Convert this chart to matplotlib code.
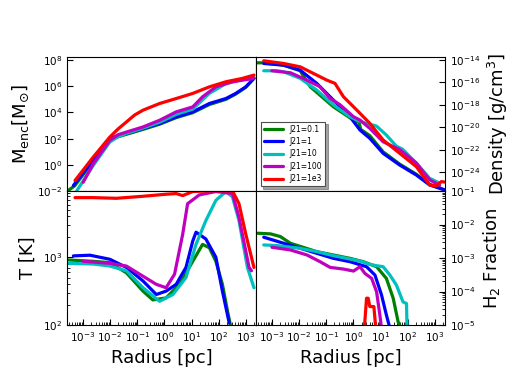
import numpy as np
import matplotlib
matplotlib.use("Agg")
import matplotlib.pyplot as plt
from matplotlib.ticker import LogLocator, NullLocator, NullFormatter

labels = ["J21=0.1", "J21=1", "J21=10", "J21=100", "J21=1e3"]
colors = ["g", "b", "c", "m", "r"]

# ---- Enclosed mass (log10 r [pc], log10 M [Msun]) ----
menc_r_g = [-3.54, -3.30, -2.62, -2.01, -1.40, -0.79, -0.18, 0.43, 1.04, 1.65, 2.26, 2.62, 2.99, 3.29]
menc_v_g = [-1.96, -1.60, 0.28, 1.95, 2.33, 2.70, 3.10, 3.60, 3.98, 4.60, 5.00, 5.40, 5.92, 6.60]
menc_r_b = [-3.35, -2.62, -2.01, -1.70, -1.40, -0.79, -0.18, 0.43, 1.04, 1.65, 2.26, 2.62, 2.99, 3.29]
menc_v_b = [-1.58, 0.34, 2.00, 2.25, 2.38, 2.77, 3.15, 3.66, 4.04, 4.68, 5.06, 5.45, 5.95, 6.60]
menc_r_c = [-3.23, -2.62, -2.01, -1.70, -1.40, -0.79, -0.18, 0.43, 1.04, 1.65, 2.26, 2.87, 3.29]
menc_v_c = [-2.00, -0.05, 1.74, 2.15, 2.40, 2.80, 3.25, 3.85, 4.25, 5.45, 6.20, 6.50, 6.65]
menc_r_m = [-2.99, -2.62, -2.01, -1.70, -1.40, -0.79, -0.18, 0.43, 1.04, 1.40, 1.89, 2.50, 3.29]
menc_v_m = [-1.33, 0.08, 1.87, 2.30, 2.50, 2.89, 3.40, 4.04, 4.42, 5.19, 5.95, 6.34, 6.60]
menc_r_r = [-3.29, -2.62, -2.01, -1.70, -1.40, -1.10, -0.79, -0.18, 0.43, 1.04, 1.65, 2.26, 2.87, 3.29]
menc_v_r = [-1.20, 0.59, 2.12, 2.75, 3.27, 3.80, 4.17, 4.68, 5.06, 5.45, 5.95, 6.34, 6.60, 6.85]

# ---- Density (log10 r [pc], log10 rho [g/cm^3]) ----
rho_r_g = [-3.54, -3.30, -2.57, -1.96, -1.59, -0.74, 0.0, 0.20, 0.27, 0.60, 1.09, 1.70, 2.31, 2.80, 3.35]
rho_v_g = [-14.24, -14.24, -14.45, -14.95, -16.38, -18.17, -19.36, -19.55, -20.20, -20.75, -22.20, -23.30, -24.20, -25.10, -25.60]
rho_r_b = [-3.30, -2.57, -1.96, -1.35, -0.74, -0.13, 0.24, 0.60, 1.09, 1.70, 2.31, 2.80, 3.35]
rho_v_b = [-14.30, -14.45, -14.90, -16.08, -17.57, -19.06, -20.25, -20.99, -22.33, -23.38, -24.27, -25.16, -25.60]
rho_r_c = [-3.30, -2.81, -2.57, -1.96, -1.35, -0.74, -0.13, 0.12, 0.40, 0.85, 1.21, 1.58, 1.80, 2.31, 2.80, 3.17]
rho_v_c = [-14.95, -14.95, -15.04, -15.63, -16.68, -18.00, -19.06, -19.36, -19.60, -19.90, -20.70, -21.70, -21.95, -23.20, -24.56, -25.00]
rho_r_m = [-3.00, -2.32, -1.71, -1.23, -0.86, -0.49, 0.0, 0.24, 0.60, 1.09, 1.70, 2.31, 2.80, 3.17]
rho_v_m = [-14.95, -15.13, -15.79, -16.38, -17.42, -18.00, -19.06, -19.36, -20.10, -21.30, -22.00, -23.20, -24.70, -25.20]
rho_r_r = [-3.30, -2.57, -1.96, -1.35, -0.98, -0.68, -0.37, 0.12, 0.60, 1.09, 1.70, 2.31, 2.80, 3.04, 3.23, 3.35]
rho_v_r = [-14.06, -14.30, -14.60, -15.34, -15.79, -16.08, -17.27, -18.46, -19.65, -21.14, -22.33, -23.52, -25.16, -25.25, -24.86, -24.90]

# ---- Temperature (log10 r [pc], log10 T [K]) ----
t_r_g = [-3.54, -2.62, -2.01, -1.40, -0.79, -0.43, 0.06, 0.55, 1.04, 1.40, 1.65, 1.89, 2.13, 2.32, 2.44]
t_v_g = [2.96, 2.94, 2.92, 2.77, 2.50, 2.37, 2.40, 2.60, 2.94, 3.19, 3.14, 2.94, 2.60, 2.20, 1.97]
t_r_b = [-3.35, -2.74, -2.01, -1.40, -0.79, -0.30, 0.06, 0.43, 0.79, 1.04, 1.16, 1.52, 1.89, 2.13, 2.38]
t_v_b = [3.02, 3.03, 2.97, 2.85, 2.65, 2.45, 2.50, 2.60, 2.85, 3.24, 3.37, 3.27, 3.00, 2.50, 2.03]
t_r_c = [-3.54, -2.62, -2.01, -1.40, -0.79, -0.18, 0.31, 0.79, 1.16, 1.52, 1.89, 2.26, 2.50, 2.74, 3.05, 3.29]
t_v_c = [2.91, 2.90, 2.87, 2.80, 2.55, 2.35, 2.45, 2.70, 3.19, 3.54, 3.84, 3.97, 3.89, 3.54, 2.85, 2.55]
t_r_m = [-2.99, -2.01, -1.40, -0.79, -0.30, 0.06, 0.37, 0.67, 0.85, 1.28, 1.89, 2.50, 2.74, 3.11, 3.20]
t_v_m = [2.94, 2.91, 2.87, 2.72, 2.60, 2.55, 2.75, 3.34, 3.79, 3.92, 3.97, 3.94, 3.59, 2.85, 2.80]
t_r_r = [-3.29, -2.62, -1.77, -0.79, 0.06, 0.43, 0.67, 1.04, 1.65, 2.50, 2.74, 2.99, 3.29]
t_v_r = [3.88, 3.88, 3.87, 3.90, 3.93, 3.94, 3.91, 3.97, 3.98, 3.98, 3.79, 3.34, 2.85]

# ---- H2 fraction (log10 r [pc], log10 f_H2) ----
h2_r_g = [-3.54, -3.05, -2.69, -2.32, -1.35, -0.13, 0.36, 0.85, 1.21, 1.46, 1.64, 1.76]
h2_v_g = [-2.26, -2.28, -2.36, -2.56, -2.81, -3.01, -3.11, -3.26, -3.61, -4.20, -4.90, -5.10]
h2_r_b = [-3.30, -2.57, -1.96, -1.35, -0.74, -0.13, 0.48, 0.79, 1.03, 1.21, 1.34]
h2_v_b = [-2.38, -2.56, -2.71, -2.86, -3.01, -3.11, -3.26, -3.51, -4.10, -4.70, -5.10]
h2_r_c = [-3.30, -2.81, -1.96, -1.35, -0.74, -0.13, 0.24, 0.60, 0.85, 1.09, 1.34, 1.58, 1.82, 1.95, 1.97]
h2_v_c = [-2.61, -2.63, -2.71, -2.81, -2.93, -3.03, -3.09, -3.19, -3.23, -3.26, -3.51, -3.81, -4.31, -4.36, -5.10]
h2_r_m = [-3.00, -2.32, -1.71, -1.23, -0.86, -0.37, 0.0, 0.24, 0.42, 0.67, 0.85, 0.97, 1.03]
h2_v_m = [-2.68, -2.76, -2.91, -3.11, -3.28, -3.33, -3.39, -3.26, -3.46, -3.61, -4.01, -4.70, -5.10]
h2_r_r = [0.40, 0.48, 0.54, 0.60, 0.75, 0.82]
h2_v_r = [-5.10, -4.20, -4.20, -4.45, -4.45, -5.10]

menc_series = [(menc_r_g, menc_v_g), (menc_r_b, menc_v_b), (menc_r_c, menc_v_c), (menc_r_m, menc_v_m), (menc_r_r, menc_v_r)]
rho_series = [(rho_r_g, rho_v_g), (rho_r_b, rho_v_b), (rho_r_c, rho_v_c), (rho_r_m, rho_v_m), (rho_r_r, rho_v_r)]
t_series = [(t_r_g, t_v_g), (t_r_b, t_v_b), (t_r_c, t_v_c), (t_r_m, t_v_m), (t_r_r, t_v_r)]
h2_series = [(h2_r_g, h2_v_g), (h2_r_b, h2_v_b), (h2_r_c, h2_v_c), (h2_r_m, h2_v_m), (h2_r_r, h2_v_r)]

fig, axes = plt.subplots(2, 2, figsize=(5.12, 3.84), dpi=100)
fig.subplots_adjust(left=67/512, right=445/512, top=1-57/384, bottom=1-325/384, wspace=0, hspace=0)
ax_m, ax_d = axes[0]
ax_t, ax_h = axes[1]

LW = 2.3
for ax, series in [(ax_m, menc_series), (ax_d, rho_series), (ax_t, t_series), (ax_h, h2_series)]:
    for (rr, vv), c, lab in zip(series, colors, labels):
        ax.plot(10**np.array(rr), 10**np.array(vv), color=c, lw=LW, label=lab,
                solid_joinstyle="round", solid_capstyle="round")
    ax.set_xscale("log")
    ax.set_yscale("log")
    ax.set_xlim(2.6e-4, 2.32e3)
    ax.tick_params(which="both", direction="in", labelsize=7.5)
    ax.tick_params(which="major", length=4)
    ax.tick_params(which="minor", length=2)

ax_m.set_ylim(1e-2, 1.7e8)
ax_m.set_yticks([1e-2, 1e0, 1e2, 1e4, 1e6, 1e8])
ax_m.yaxis.set_minor_locator(NullLocator())
ax_d.set_ylim(2e-26, 1.9e-14)
ax_d.set_yticks([1e-24, 1e-22, 1e-20, 1e-18, 1e-16, 1e-14])
ax_d.yaxis.set_minor_locator(NullLocator())
ax_t.set_ylim(1e2, 9.5e3)
ax_h.set_ylim(1e-5, 1e-1)

for ax in (ax_d, ax_h):
    ax.yaxis.tick_right()
    ax.yaxis.set_label_position("right")
for ax in (ax_m, ax_d):
    ax.tick_params(axis="x", which="both", bottom=False, top=False, labelbottom=False)
for ax in (ax_t, ax_h):
    ax.set_xticks([1e-3, 1e-2, 1e-1, 1e0, 1e1, 1e2, 1e3])
    ax.xaxis.set_minor_locator(LogLocator(base=10, subs=np.arange(2, 10), numticks=20))
    ax.xaxis.set_minor_formatter(NullFormatter())
    ax.set_xlabel("Radius [pc]", fontsize=13)

ax_m.set_ylabel(r"$\mathrm{M_{enc}[M_{\odot}]}$", fontsize=13)
ax_d.set_ylabel(r"Density [g/cm$^3$]", fontsize=13)
ax_t.set_ylabel("T [K]", fontsize=13)
ax_h.set_ylabel(r"H$_2$ Fraction", fontsize=13)

leg = ax_d.legend(loc="lower left", fontsize=5.5, shadow=True, fancybox=False,
                  handlelength=2.6, labelspacing=0.45, framealpha=1, edgecolor="0.3",
                  borderaxespad=0.6)
leg.get_frame().set_linewidth(0.8)

fig.savefig("out.png", dpi=100)
